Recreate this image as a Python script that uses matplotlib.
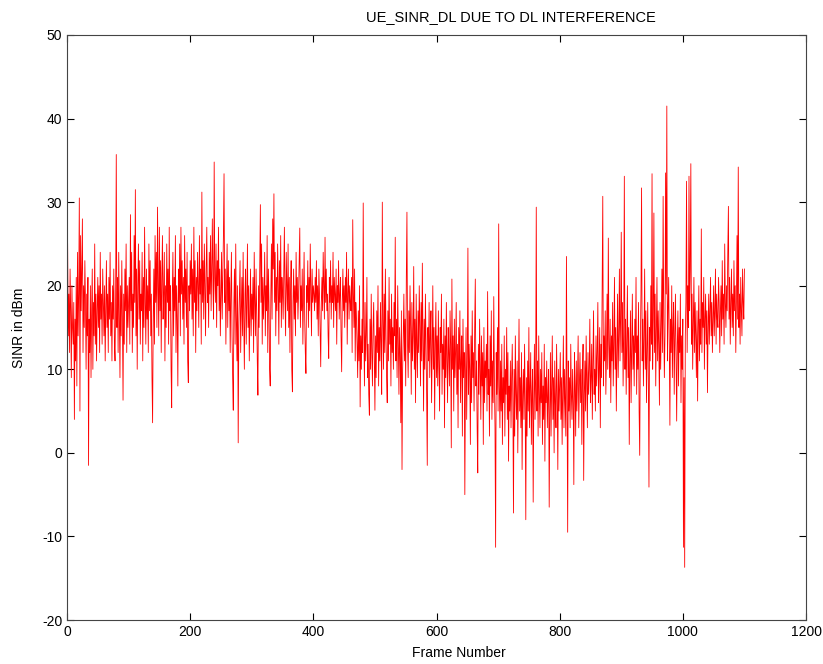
import numpy as np
import matplotlib
matplotlib.use("Agg")
import matplotlib.pyplot as plt

# SINR por frame (frames 1..1100, bloques de 100)
sinr_0000 = [25, 14, 19, 12, 22, 17, 9, 20, 15, 13,
             18, 4, 16, 11, 21, 8, 24, 14, 19, 30.5,
             5, 26, 17, 22, 28, 12, 20, 15, 23, 18,
             10, 19, 14, 21, -1.5, 16, 12, 20, 9, 17,
             22, 10, 18, 14, 25, 13, 19, 11, 17, 21,
             15, 20, 12, 24, 16, 19, 13, 22, 18, 14,
             20, 11, 17, 23, 15, 19, 12, 21, 16, 24,
             14, 18, 11, 20, 16, 22, 13, 11, 19, 35.7,
             15, 21, 12, 24, 17, 9, 20, 14, 23, 16,
             6.3, 19, 13, 22, 17, 25, 12, 20, 15, 18]
sinr_0100 = [21, 13, 28.5, 17, 24, 12, 19, 15, 26, 18,
             31.5, 14, 22, 10, 20, 25, 16, 23, 13, 19,
             17, 24, 11, 21, 15, 27, 18, 13, 22, 16,
             20, 12, 25, 17, 23, 14, 19, 9, 3.6, 16,
             22, 13, 26, 18, 24, 15, 29.4, 20, 14, 27,
             17, 23, 12, 21, 26, 16, 19, 24, 11, 20,
             15, 25, 18, 22, 13, 27, 17, 20, 10, 5.4,
             19, 24, 14, 21, 17, 26, 12, 20, 16, 8,
             22, 18, 25, 14, 27, 19, 23, 16, 21, 13,
             26, 18, 22, 15, 24, 11, 8.4, 20, 17, 23]
sinr_0200 = [19, 25, 16, 22, 14, 27, 18, 23, 12, 21,
             17, 24, 20, 15, 26, 19, 22, 13, 31.2, 18,
             23, 16, 25, 20, 14, 22, 27, 18, 21, 15,
             24, 19, 26, 17, 22, 28, 20, 16, 34.8, 21,
             18, 25, 15, 23, 20, 27, 17, 22, 14, 19,
             24, 16, 21, 26, 33.4, 18, 22, 13, 20, 25,
             15, 23, 17, 21, 12, 19, 24, 14, 9, 5.1,
             18, 22, 13, 25, 16, 11, 20, 1.2, 15, 19,
             23, 12, 17, 21, 14, 24, 16, 10, 19, 22,
             13, 18, 25, 15, 20, 11, 17, 22, 14, 19]
sinr_0300 = [16, 21, 12, 24, 18, 14, 22, 17, 11, 6.9,
             20, 15, 23, 29.7, 18, 25, 13, 21, 16, 19,
             24, 14, 20, 17, 26, 12, 22, 18, 10, 8,
             19, 25, 16, 28, 22, 31, 18, 24, 14, 21,
             17, 25, 20, 13, 23, 18, 26, 15, 21, 19,
             16, 22, 27, 18, 14, 24, 20, 17, 25, 15,
             21, 12, 19, 23, 10, 7.3, 18, 22, 16, 20,
             14, 24, 18, 21, 16, 19, 23, 26.9, 15, 20,
             17, 22, 13, 19, 24, 16, 12, 9.5, 20, 18,
             23, 15, 21, 17, 25, 19, 14, 22, 18, 20]
sinr_0400 = [19, 17, 21, 18, 23, 16, 20, 14, 22, 19,
             15, 10.3, 18, 21, 17, 24, 20, 16, 25.8, 18,
             22, 17, 19, 14, 11.3, 21, 18, 23, 16, 20,
             18, 24, 15, 21, 19, 17, 22, 13, 20, 18,
             23, 16, 19, 21, 14, 9.7, 18, 22, 17, 20,
             15, 21, 18, 24, 13, 19, 22, 16, 20, 18,
             17, 21, 12, 27.9, 19, 15, 22, 11, 18, 16,
             13, 9, 17, 11, 20, 5.5, 14, 10, 16, 12,
             29.9, 15, 8, 18, 11, 14, 21, 9, 13, 7,
             4.5, 16, 10, 19, 12, 8, 15, 18, 11, 5.1]
sinr_0500 = [14, 9, 17, 12, 20, 8, 15, 11, 18, 13,
             7, 30, 16, 10, 19, 12, 22, 14, 9, 6,
             17, 11, 21, 13, 16, 8, 19, 12, 15, 10,
             18, 14, 25.8, 11, 16, 9, 20, 13, 7, 15,
             12, 3.6, 17, -2, 10, 14, 19, 11, 16, 8,
             21, 28.8, 13, 9, 17, 12, 20, 15, 7, 18,
             11, 14, 22.3, 10, 16, 6, 19, 13, 9, 17,
             12, 20, 15, 8, 18, 11, 22.7, 14, 5, 16,
             10, 19, 13, 7, -1.5, 15, 11, 18, 9, 14,
             17, 6, 12, 20, 10, 15, 4, 13, 18, 9]
sinr_0600 = [14, 8, 17, 11, 5, 15, 12, 19, 7, 13,
             10, 16, 3, 14, 9, 18, 11, 6, 15, 12,
             8, 17, 13, 0.6, 20.8, 10, 14, 5, 16, 9,
             12, 18, 7, 13, 3, 15, 10, 17, 6, 11,
             14, 2, 16, 9, 12, -5, 8, 15, 4, 11,
             24.5, 7, 13, 10, 1, 14, 6, 17, 9, 12,
             5, 15, 20.8, 8, 11, 3, -2.4, 13, 7, 16,
             10, 4, 14, 8, 12, 1, 15, 6, 11, 9,
             13, 5, 19.3, 7, 10, 2, 14, 8, 17, 4,
             11, 6, 18.7, 9, 3, -11.3, 12, 7, 15, 5]
sinr_0700 = [27.4, 8, 3, 11, 5, 13, 1, 9, 6, 14,
             2, 10, 7, 15, 4, 12, -1, 8, 5, 11,
             3, 9, 13, 6, -7.2, 10, 2, 14, 7, 4,
             11, 0, 8, 16, 5, 9, 3, 12, -2, 7,
             10, 4, 13, 6, -8, 9, 2, 11, 5, 15,
             3, 8, 12, 1, 7, 10, -5.9, 6, 13, 4,
             9, 29.4, 5, 11, 2, 14, 7, 3, 10, 6,
             12, 1, 8, 4, 13, -1, 9, 6, 11, 3,
             7, 10, -6.5, 5, 12, 2, 8, 14, 4, 9,
             0, 11, 6, 3, 13, 7, -2, 10, 5, 8]
sinr_0800 = [12, 4, 9, 1, 7, 14, 3, 10, 6, 2,
             23.5, 8, -9.5, 11, 5, 9, 3, 13, 7, 4,
             10, 6, -3.8, 12, 8, 2, 11, 5, 9, 14,
             3, 8, 12, 6, 10, 1, 9, 13, -3.3, 7,
             11, 5, 14, 8, 3, 12, 7, 10, 16, 6,
             9, 13, 4, 11, 17, 7, 10, 5, 14, 8,
             12, 18, 6, 10, 15, 3, 13, 9, 20, 30.7,
             8, 14, 11, 17, 7, 12, 19, 10, 25.7, 13,
             9, 16, 6, 14, 11, 18, 8, 13, 21, 10,
             15, 5, 12, 19, 9, 14, 22, 11, 16, 26.4]
sinr_0900 = [12, 18, 8, 14, 33.1, 10, 16, 7, 13, 20,
             9, 15, 1, 11, 17, 6, 13, 19, 10, 14,
             8, 16, 12, 21, 7, 14, 10, 18, 5, -0.3,
             13, 19, 31.7, 11, 16, 8, 14, 22, 10, 17,
             6, 12, 18, 9, -4.1, 15, 11, 20, 13, 33.4,
             10, 16, 28.7, 12, 19, 8, 14, 21, 11, 17,
             13, 5.7, 18, 10, 15, 22, 12, 30.7, 16, 9,
             14, 33.5, 19, 41.5, 11, 17, 21, 13, 3.3, 16,
             12, 20, 9, 15, 18, 7, 14, 19, 11, 3.8,
             13, 17, 8, 15, 12, 19, 6, 14, 10, 16]
sinr_1000 = [-11.3, 9, -13.7, 14, 18, 32.5, 12, 20, 15, 33.1,
             17, 22, 34.6, 13, 19, 10, 16, 21, 12, 18,
             14, 9, 17, 6.2, 15, 20, 11, 16, 13, 26.8,
             12, 18, 15, 21, 10, 16, 19, 13, 17, 7.2,
             15, 19, 13, 17, 21, 14, 18, 12, 16, 20,
             14, 17, 22, 13, 19, 16, 15, 21, 18, 12,
             17, 20, 14, 23, 16, 19, 13, 25, 18, 15,
             20, 17, 24, 29.5, 16, 21, 13, 18, 22, 15,
             19, 14, 23, 17, 20, 12, 18, 26, 16, 34.2,
             15, 19, 13, 21, 17, 14, 22, 18, 16, 22]

sinr = np.array(sinr_0000 + sinr_0100 + sinr_0200 + sinr_0300 + sinr_0400 +
                sinr_0500 + sinr_0600 + sinr_0700 + sinr_0800 + sinr_0900 + sinr_1000)
frames = np.arange(1, len(sinr) + 1)

plt.rcParams['font.family'] = ['Liberation Sans', 'DejaVu Sans']
plt.rcParams['axes.unicode_minus'] = False

fig = plt.figure(figsize=(8.23, 6.64), dpi=100)
ax = fig.add_axes([67 / 823, 1 - 620 / 664, (806 - 67) / 823, (620 - 35) / 664])

ax.plot(frames, sinr, color='red', linewidth=0.6)

ax.set_xlim(0, 1200)
ax.set_ylim(-20, 50)
ax.set_xticks(range(0, 1201, 200))
ax.set_yticks(range(-20, 51, 10))
ax.tick_params(direction='in', top=True, right=True, length=5, labelsize=10, colors='black')
for sp in ax.spines.values():
    sp.set_color('#444444')
    sp.set_linewidth(0.8)

ax.set_xlabel('Frame Number', fontsize=10)
ax.xaxis.set_label_coords(0.53, -0.045)
ax.set_ylabel('SINR in dBm', fontsize=10)
ax.yaxis.set_label_coords(-0.055, 0.5)
ax.set_title('UE_SINR_DL DUE TO DL INTERFERENCE', fontsize=10.5, x=0.6, pad=10)

plt.savefig("out.png", dpi=100)
plt.close()
